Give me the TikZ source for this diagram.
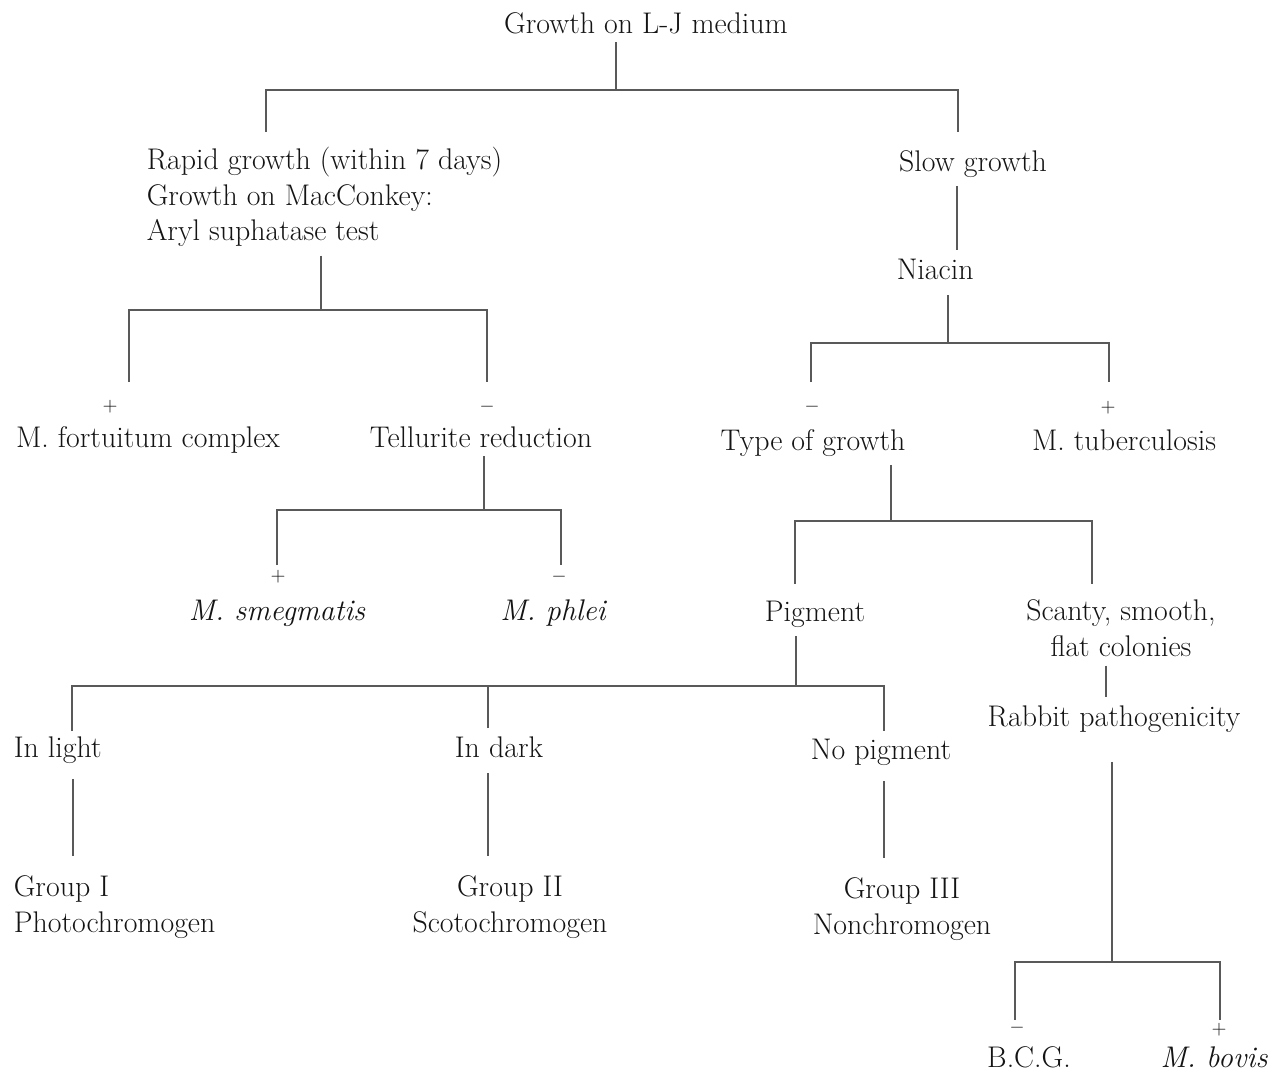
\documentclass[tikz,border=0pt]{standalone}
\tikzset{
  link/.style={draw=black!65, line width=0.8pt},
  sign/.style={font=\fontsize{11}{12}\selectfont, outer sep=0pt},
  twoline/.style={align=center, anchor=north},
}
\begin{document}
\begin{tikzpicture}[x=0.02cm, y=-0.02cm,
  every node/.style={inner sep=0pt, outer sep=5pt, text=black!92,
    font=\fontsize{17}{20.4}\selectfont}]
\useasboundingbox (0,0) rectangle (1281,1076);
% nodes
\node[anchor=base] (root) at (646,33) {Growth on L-J medium};
\node[anchor=north west, align=left] (rapid) at (138,138)
  {Rapid growth (within 7 days)\\Growth on MacConkey:\\Aryl suphatase test};
\node[anchor=base] (slow) at (973,171) {Slow growth};
\node[anchor=base west] (niacin) at (888,279) {Niacin};
\node[anchor=base] (fort) at (148,447) {M. fortuitum complex};
\node[anchor=base] (tell) at (481,447) {Tellurite reduction};
\node[anchor=base] (typeg) at (813,450) {Type of growth};
\node[anchor=base] (tuber) at (1124,450) {M. tuberculosis};
\node[anchor=base] (smeg) at (277,620) {\itshape M. smegmatis};
\node[anchor=base] (phlei) at (553,620) {\itshape M. phlei};
\node[anchor=base] (pigm) at (815,621) {Pigment};
\node[twoline] (scanty) at (1121,591) {Scanty, smooth,\\flat colonies};
\node[anchor=base] (rabbit) at (1114,726) {Rabbit pathogenicity};
\node[anchor=base west] (light) at (5,757) {In light};
\node[anchor=base] (dark) at (499,757) {In dark};
\node[anchor=base] (nopig) at (881,759) {No pigment};
\node[anchor=north west, align=left] (grpI) at (5,867) {Group I\\Photochromogen};
\node[twoline] (grpII) at (510,867) {Group II\\Scotochromogen};
\node[twoline] (grpIII) at (902,869) {Group III\\Nonchromogen};
\node[anchor=base] (bcg) at (1029,1067) {B.C.G.};
\node[anchor=base] (bovis) at (1214,1067) {\itshape M. bovis};
% signs
\node[sign] (sfort) at (110,407) {$+$};
\node[sign] (stell) at (487,407) {$-$};
\node[sign] (stype) at (812,407) {$-$};
\node[sign] (stuber) at (1108,408) {$+$};
\node[sign] (ssmeg) at (278,577) {$+$};
\node[sign] (sphlei) at (559,577) {$-$};
\node[sign] (sbcg) at (1017,1028) {$-$};
\node[sign] (sbovis) at (1219,1030) {$+$};
% junctions and branch ends
\coordinate (jr) at (616,90);
\coordinate (rapidT) at (266,132);
\coordinate (slowT) at (958,132);
\coordinate (ja) at (321,310);
\coordinate (fortT) at (129,382);
\coordinate (tellT) at (487,382);
\coordinate (jn) at (948,343);
\coordinate (typeT) at (811,382);
\coordinate (tuberT) at (1109,382);
\coordinate (jt) at (484,510);
\coordinate (smegT) at (277,565);
\coordinate (phleiT) at (561,565);
\coordinate (jy) at (891,521);
\coordinate (pigT) at (795,584);
\coordinate (scanT) at (1092,584);
\coordinate (jp) at (796,686);
\coordinate (lightT) at (72,731);
\coordinate (darkT) at (488,728);
\coordinate (nopigT) at (884,731);
\coordinate (jb) at (1112,962);
\coordinate (bcgT) at (1015,1020);
\coordinate (bovisT) at (1220,1020);
\coordinate (cs) at (957,0);
\coordinate (cl) at (73,0);
\coordinate (cd) at (488,0);
\coordinate (cn) at (884,0);
\coordinate (cc) at (1106,0);
% connectors
\draw[link] (root.south -| jr) -- (jr);
\draw[link] (rapidT) |- (jr) -| (slowT);
\draw[link] (slow.south -| cs) -- (niacin.north -| cs);
\draw[link] (rapid.south -| ja) -- (ja);
\draw[link] (fortT) |- (ja) -| (tellT);
\draw[link, shorten <=4pt] (niacin.south -| jn) -- (jn);
\draw[link] (typeT) |- (jn) -| (tuberT);
\draw[link] (tell.south -| jt) -- (jt);
\draw[link] (smegT) |- (jt) -| (phleiT);
\draw[link] (typeg.south -| jy) -- (jy);
\draw[link] (pigT) |- (jy) -| (scanT);
\draw[link] (pigm.south -| jp) -- (jp);
\draw[link] (lightT) |- (jp) -| (nopigT);
\draw[link] (darkT) -- (darkT |- jp);
\draw[link, shorten <=4pt, shorten >=6pt] (light.south -| cl) -- (grpI.north -| cl);
\draw[link, shorten <=4pt, shorten >=6pt] (dark.south -| cd) -- (grpII.north -| cd);
\draw[link, shorten <=4pt, shorten >=6pt] (nopig.south -| cn) -- (grpIII.north -| cn);
\draw[link] (scanty.south -| cc) -- (rabbit.north -| cc);
\draw[link, shorten <=12pt] (rabbit.south -| jb) -- (jb);
\draw[link] (bcgT) |- (jb) -| (bovisT);
\end{tikzpicture}
\end{document}
